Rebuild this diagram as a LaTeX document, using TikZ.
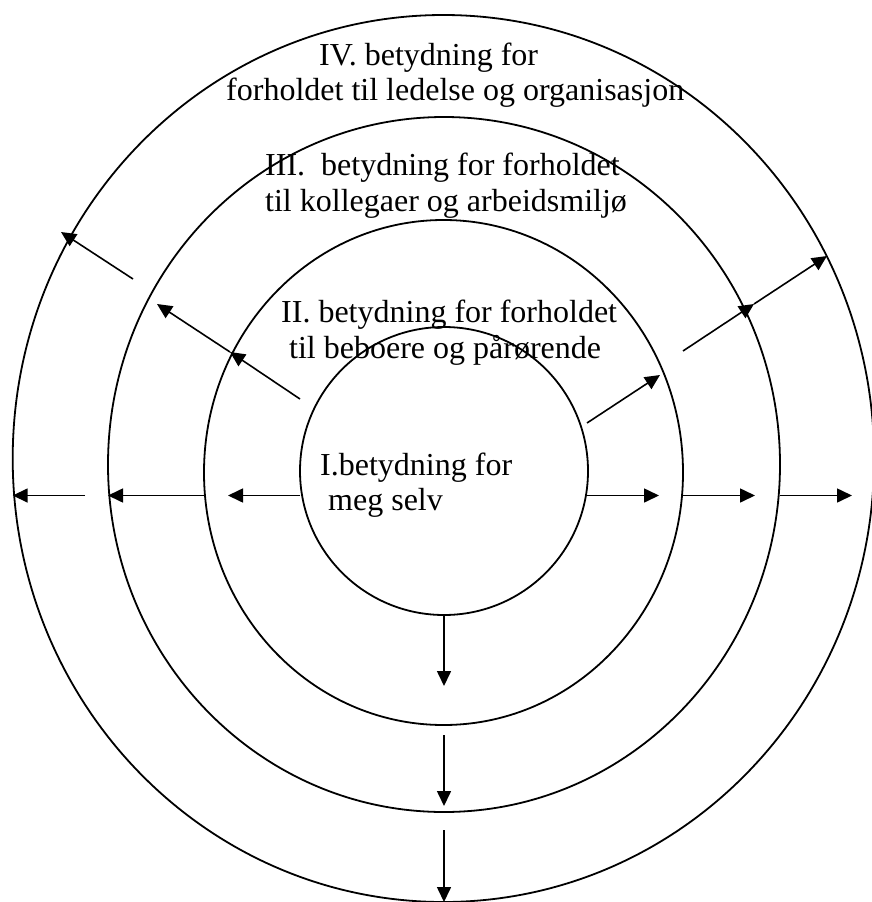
\documentclass[tikz,border=0pt]{standalone}
\usepackage{fontspec}
\setmainfont{Liberation Serif}
\usetikzlibrary{arrows.meta}
\tikzset{
  ring/.style={draw=black, line width=1.8pt},
  arr/.style={draw=black, line width=1.6pt, -{Triangle[length=15pt,width=14pt]}},
  lbl/.style={anchor=base west, inner sep=0pt, font=\fontsize{32}{36}\selectfont}
}
\begin{document}
\begin{tikzpicture}[x=1pt,y=-1pt]
\useasboundingbox (0,0) rectangle (871,902);
% centres
\coordinate (c4) at (443.4,458.5);
\coordinate (c3) at (444,464.5);
\coordinate (c2) at (443.5,472.5);
\coordinate (c1) at (444,471);
% rings
\draw[ring] (c4) ellipse [x radius=430.7pt, y radius=443.5pt];
\draw[ring] (c3) ellipse [x radius=336pt, y radius=347.5pt];
\draw[ring] (c2) ellipse [x radius=239.5pt, y radius=252.5pt];
\draw[ring] (c1) ellipse [x radius=144pt, y radius=144pt];
% labels
\node[lbl] (t4a) at (319,65) {IV. betydning for};
\node[lbl] (t4b) at (226,100) {forholdet til ledelse og organisasjon};
\node[lbl] (t3a) at (265,175) {III.\ \ betydning for forholdet};
\node[lbl] (t3b) at (265,211.5) {til kollegaer og arbeidsmiljø};
\node[lbl] (t2a) at (281,322) {II. betydning for forholdet};
\node[lbl] (t2b) at (289,358) {til beboere og pårørende};
\node[lbl] (t1a) at (320,475) {I.betydning for};
\node[lbl] (t1b) at (328,510) {meg selv};
% arrow end points
\coordinate (r1s) at (587,495.5); \coordinate (r1e) at (659,495.5);
\coordinate (r2s) at (683,495.5); \coordinate (r2e) at (755,495.5);
\coordinate (r3s) at (780,495.5); \coordinate (r3e) at (852,495.5);
\coordinate (l1s) at (300,495.5); \coordinate (l1e) at (228,495.5);
\coordinate (l2s) at (204,495.5); \coordinate (l2e) at (108,495.5);
\coordinate (l3s) at (85,495.5);  \coordinate (l3e) at (12.7,495.5);
\coordinate (d1s) at (444,615);   \coordinate (d1e) at (444,686);
\coordinate (d2s) at (444,735);   \coordinate (d2e) at (444,806);
\coordinate (d3s) at (444,830);   \coordinate (d3e) at (444,902);
\coordinate (ul1s) at (300,399);  \coordinate (ul1e) at (230,352);
\coordinate (ul2e) at (157,304);
\coordinate (ul3s) at (133,279);  \coordinate (ul3e) at (61,232);
\coordinate (ur1s) at (587,423);  \coordinate (ur1e) at (660,375);
\coordinate (ur2s) at (683,351);  \coordinate (ur2e) at (754,304);
\coordinate (ur3e) at (827,256);
% arrows
\draw[arr] (r1s) -- (r1e);
\draw[arr] (r2s) -- (r2e);
\draw[arr] (r3s) -- (r3e);
\draw[arr] (l1s) -- (l1e);
\draw[arr] (l2s) -- (l2e);
\draw[arr] (l3s) -- (l3e);
\draw[arr] (d1s) -- (d1e);
\draw[arr] (d2s) -- (d2e);
\draw[arr] (d3s) -- (d3e);
\draw[arr] (ul1s) -- (ul1e);
\draw[arr] (ul1e) -- (ul2e);
\draw[arr] (ul3s) -- (ul3e);
\draw[arr] (ur1s) -- (ur1e);
\draw[arr] (ur2s) -- (ur2e);
\draw[arr] (ur2e) -- (ur3e);
\end{tikzpicture}
\end{document}
